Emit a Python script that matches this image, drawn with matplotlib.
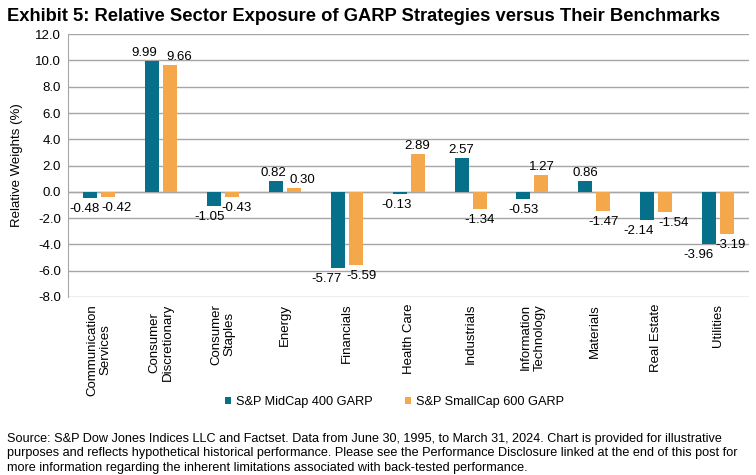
import matplotlib.pyplot as plt
import numpy as np

plt.rcParams['font.family'] = ['Liberation Sans', 'DejaVu Sans']

# Data
sectors = ["Communication\nServices", "Consumer\nDiscretionary", "Consumer\nStaples",
           "Energy", "Financials", "Health Care", "Industrials",
           "Information\nTechnology", "Materials", "Real Estate", "Utilities"]
midcap = [-0.48, 9.99, -1.05, 0.82, -5.77, -0.13, 2.57, -0.53, 0.86, -2.14, -3.96]
smallcap = [-0.42, 9.66, -0.43, 0.30, -5.59, 2.89, -1.34, 1.27, -1.47, -1.54, -3.19]
series_names = ["S&P MidCap 400 GARP", "S&P SmallCap 600 GARP"]

# horizontal nudges (pixels) for value labels, like Excel's collision shifting
mid_dx = [-6, -8, -4, -2, -11, -3, 0, 0, 0, -9, -11]
small_dx = [9, 9, 5, 9, 6, 0, 0, 0, 0, 8, 3]

teal = "#06708A"
orange = "#F4A84B"

fig = plt.figure(figsize=(7.56, 4.75), dpi=100)
ax = fig.add_axes([0.09, 0.375, 0.901, 0.553])

x = np.arange(len(sectors))
w = 0.226
off = 0.145
b1 = ax.bar(x - off, midcap, w, color=teal, label=series_names[0], zorder=3)
b2 = ax.bar(x + off, smallcap, w, color=orange, label=series_names[1], zorder=3)

# value labels
for bars, vals, dxs in ((b1, midcap, mid_dx), (b2, smallcap, small_dx)):
    for b, v, dx in zip(bars, vals, dxs):
        cx = b.get_x() + b.get_width() / 2
        if v >= 0:
            ax.annotate("%.2f" % v, (cx, v), xytext=(dx, 2), textcoords="offset pixels",
                        ha="center", va="bottom", fontsize=9.5)
        else:
            ax.annotate("%.2f" % v, (cx, v), xytext=(dx, -5), textcoords="offset pixels",
                        ha="center", va="top", fontsize=9.5)

ax.set_ylim(-8, 12)
ax.set_yticks(np.arange(-8, 12.1, 2))
ax.set_yticklabels(["%.1f" % v for v in np.arange(-8, 12.1, 2)], fontsize=9.5)
ax.set_xlim(-0.5, len(sectors) - 0.5)
ax.set_xticks(x)
ax.set_xticklabels(sectors, rotation=90, fontsize=9.5, va="top", ha="center",
                   linespacing=1.2, multialignment="center")
ax.tick_params(axis="both", length=0, pad=5)
ax.grid(axis="y", color="#A6A6A6", linewidth=1, zorder=0)
for s in ["top", "right", "bottom"]:
    ax.spines[s].set_visible(False)
ax.spines["left"].set_color("#A6A6A6")
ax.axhline(0, color="#A6A6A6", linewidth=1, zorder=2)

ax.set_ylabel("Relative Weights (%)", fontsize=9.5, labelpad=9)

fig.text(0.009, 0.965, "Exhibit 5: Relative Sector Exposure of GARP Strategies versus Their Benchmarks",
         fontsize=13.2, fontweight="bold", ha="left", va="center")

fig.legend(handles=[b1, b2], loc="center", bbox_to_anchor=(0.522, 0.154), ncol=2,
           frameon=False, fontsize=9.2, handlelength=0.45, handleheight=0.45,
           handletextpad=0.4, columnspacing=2.5)

fig.text(0.009, 0.089,
         "Source: S&P Dow Jones Indices LLC and Factset. Data from June 30, 1995, to March 31, 2024. Chart is provided for illustrative\n"
         "purposes and reflects hypothetical historical performance. Please see the Performance Disclosure linked at the end of this post for\n"
         "more information regarding the inherent limitations associated with back-tested performance.",
         fontsize=9.1, ha="left", va="top", linespacing=1.3)

fig.savefig("out.png", dpi=100)
